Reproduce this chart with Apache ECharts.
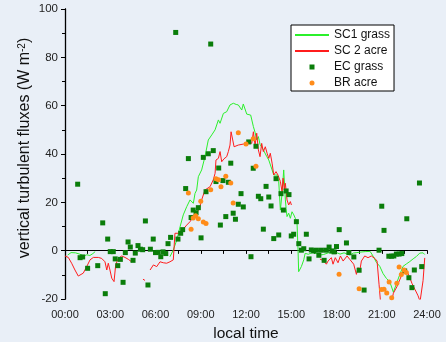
<!DOCTYPE html>
<html>
<head>
<meta charset="utf-8">
<script src="https://cdn.jsdelivr.net/npm/echarts@6/dist/echarts.min.js"></script>
<style>
  html, body { margin: 0; padding: 0; background: #e9eff7; }
  #main { width: 446px; height: 342px; }
</style>
</head>
<body>
<div id="main"></div>
<script>
// SC1 grass (green line), null = gap in the record
const sc1Hours = [0.18, 0.4, 0.7, 1.0, 1.25, 1.45, 1.65, 1.85, 2.0, 2.05,
  6.96, 7.18, 7.41, 7.63, 7.84, 8.07, 8.29, 8.4, 8.51, 8.62, 8.73, 8.84, 9.06, 9.28, 9.5, 9.73, 9.95,
  10.17, 10.28, 10.5, 10.72, 10.94, 11.05, 11.16, 11.35, 11.49, 11.56, 11.72, 11.82, 12.05, 12.31, 12.49,
  12.6, 12.71, 12.82, 12.93, 13.15, 13.38, 13.51, 13.73, 13.84, 13.95, 14.06, 14.17, 14.28, 14.39, 14.5,
  14.55, 14.61, 14.66, 14.72, 14.83, 14.94, 15.05, 15.17, 15.27, 15.38, 15.45, 15.49, 15.67, 15.83, 15.92,
  16.13, 16.4, 16.69, 16.9, 17.13, 17.46, 17.79, 18.0, 18.24, 18.5, 18.68, 18.9, 19.12, 19.35, 19.56, 19.9,
  20.23, 20.45, 20.64, 20.87, 21.09, 21.31, 21.53, 21.66, 21.77, 21.97, 22.2, 22.41, 22.63, 22.86, 23.08,
  23.3, 23.52, 23.74, 23.85];
const sc1Flux = [-1.8, -0.8, -0.9, -1.5, -2.2, -1.7, -2.0, -1.2, -0.4, null,
  -2.5, 0.3, 4.4, 9.9, 14.8, 18.2, 21, 21.7, 19.6, 23.7, 25.1, 30.6, 33.4, 38.9, 45.8, 47.9, 50,
  54.1, 52.7, 56.8, 57.5, 60.3, 60.7, 61, 60.5, 60.3, 59.6, 58.2, 60.7, 56.5, 56.1, 51.3,
  49, 45.8, 47.2, 44, 41.7, 38.9, 37.5, 33.4, 31.3, 30.6, 31.3, 28.6, 16.8, 23.7, 33.4,
  33, 21, 17.5, 14.1, 15.5, 13.4, 16.1, 14.8, 13.4, 12, 0.3, -8.7, -6.6, -3.8, -1.1,
  -1.5, -0.8, -1.2, -1.8, -1.6, -0.9, -1.1, -0.8, -1.4, -0.9, -1.3, -1.8, -1.0, -0.8, -0.6, -0.4,
  -0.3, -2.5, -4.8, -6.5, -9.5, -11.5, -12.8, -13.5, -17.2, -13.7, -9.8, -6.5, -5.5, -4.5, -3.4,
  -2.4, -1.0, -0.9, -1.6];

// SC 2 acre (red line)
const sc2Hours = [0.0, 0.22, 0.44, 0.66, 0.88, 0.99, 1.21, 1.44, 1.66, 1.88, 2.21, 2.43, 2.65, 2.77, 2.87,
  2.98, 3.1, 3.25, 3.36, 3.53, 3.76, 3.98, 4.2, 4.42, 4.53, 4.64, 4.9,
  5.17, 5.3, 5.45,
  5.64, 5.86, 6.08, 6.3, 6.52, 6.74, 6.96, 7.18, 7.29, 7.51, 7.63, 7.84, 8.07, 8.29, 8.51, 8.73, 8.91,
  9.0, 9.06, 9.28, 9.62, 9.83, 9.95, 10.01, 10.17, 10.28, 10.39, 10.54, 10.72, 10.83, 10.94, 11.01, 11.12,
  11.21, 11.49, 11.82, 12.05, 12.22, 12.38, 12.49, 12.6, 12.71, 12.82, 12.93, 13.04, 13.15, 13.28, 13.4,
  13.51, 13.61, 13.73, 13.84, 13.99, 14.12, 14.28, 14.39, 14.46, 14.54, 14.61, 14.72, 14.83, 14.94, 15.01, 15.2,
  16.9, 17.11, 17.33, 17.44, 17.55, 17.66, 17.77, 17.92, 18.1, 18.26, 18.44, 18.55, 18.7, 18.88, 18.99,
  19.14, 19.32, 19.43, 19.54, 19.65, 19.87, 20.09, 20.31, 20.54, 20.69, 20.82, 20.91, 21.1, 21.5, 21.77,
  22.0, 22.21, 22.43, 22.6, 22.8, 23.0, 23.2, 23.41, 23.54, 23.65, 23.74, 23.85];
const sc2Flux = [-2.2, -2.8, -5.2, -8, -10.5, -11.2, -9.3, -6.6, -3.8, -2.8, -2.8, -3.2, -4.6, -8, -5.2,
  -8, -11.4, -12.8, -5.9, -3.2, -2.2, -2.8, -3.6, -4.6, -5.4, -4.0, null,
  -11.8, -12.3, null,
  -8, -5.9, -6.6, -4.6, -5.0, -5.2, -4.6, -3.8, 7.2, 7.2, 7.9, 8.9, 10.6, 12, 14.1, 15.5, 17.5,
  19.6, 21, 25.1, 26.5, 29.3, 32, 37.5, 38.2, 41, 36.8, 38, 38.9, 41, 43.7, 49.2, 45.8,
  43, 43.7, 44.1, 44.1, 45.1, 44.4, 49.2, 43.5, 48.6, 41.7, 38.9, 44.4, 41, 43, 40.3,
  38.2, 40.3, 36.2, 31.3, 32.7, 31.3, 28.6, 24.4, 30, 25.1, 27.9, 21, 18.9, 20.3, 18.9, null,
  -3.5, -4, -5.6, -4.3, -5, -2.9, -5.6, -2.9, -5, -2.2, -4.3, -3.6, -2.2, -3.6, -3.2,
  -5.6, -9.8, -7, -8.4, -4.3, -2.2, -2.9, -2.2, -3.2, -4.3, -13.9, -20.5, -26, -26, -17.6,
  -15, -11.8, -8.6, -7.8, -10.2, -13.5, -16, -18.7, -21, -21, -12.3, -3.0];

// EC grass (green squares)
const ecHours = [0.84, 1.0, 1.17, 1.5, 2.17, 2.5, 2.67, 2.83, 3.0, 3.2, 3.33, 3.5, 3.67, 3.85, 4.0, 4.18,
  4.33, 4.51, 4.66, 4.84, 5.0, 5.15, 5.33, 5.5, 5.66, 5.85, 6.0, 6.17, 6.35, 6.5, 6.68, 6.83, 7.0, 7.34,
  7.49, 7.67, 7.8, 8.0, 8.18, 8.36, 8.5, 8.69, 8.84, 9.02, 9.17, 9.35, 9.5, 9.66, 9.83, 10.01, 10.19,
  10.3, 10.47, 10.66, 10.83, 10.99, 11.15, 11.3, 11.49, 11.67, 11.82, 12.18, 12.33, 12.48, 12.66, 12.82,
  12.98, 13.15, 13.33, 13.51, 13.66, 13.84, 13.99, 14.17, 14.32, 14.48, 14.66, 14.85, 15.0, 15.16, 15.34,
  15.5, 15.67, 15.83, 16.0, 16.18, 16.33, 16.49, 16.67, 16.83, 17.0, 17.18, 17.33, 17.51, 17.69, 17.84,
  18.0, 18.18, 18.66, 18.82, 19.15, 19.5, 19.83, 20.82, 21.0, 21.15, 21.47, 21.64, 21.8, 21.97, 22.15,
  22.33, 22.52, 22.66, 22.8, 23.0, 23.16, 23.5, 23.65];
const ecFlux = [27.5, -2.9, -2.6, -7.3, -6.2, 11.5, -17.8, 4.8, -0.4, -0.4, -3.4, -6.2, -3.6, -13.1, -0.8, 3.6,
  1.5, -4.0, -1.0, 2.1, 0.6, 0.4, 12.3, -14.2, 0.6, 4.8, -0.8, -0.7, -2.5, -0.5, -1.2, 2.9, 5.5, 90.3,
  4.8, 7.2, 8.7, 25.7, 38.1, 13.7, 16.8, 15.7, 17.8, 5.3, 38.6, 24.4, 40.1, 85.5, 41.4, 28.6, 34.2,
  10.6, 29, 14.1, 28.3, 36.2, 15.5, 13.0, 19.2, 23.6, 18.1, 45.0, -2.5, 34.1, 43.2, 22.5,
  21.5, 8.9, 26.6, 22.2, 18.5, 5.0, 29.8, 6.5, 23.6, 16.8, 24.7, 23.2, 6.1, 6.8, 12.0,
  2.9, 0.2, 0.8, 6.8, -3.4, 0.3, -0.1, 0.2, -1.9, 0.2, -4.0, 0.2, 1.5, -0.1, -0.5,
  1.7, 8.7, 3.2, -0.8, -2.6, -8.1, -16.3, 0.2, 18.4, 8.4, -2.3, -2.3, -2.2, -1.4, -1.4,
  -1.2, -8.4, 13.2, -11.2, -15.3, -8.0, 28.0, -6.6];

// BR acre (orange dots)
const brHours = [8.18, 8.36, 8.5, 8.66, 8.84, 9.0, 9.17, 9.35, 9.66, 10.01, 10.17, 10.34, 10.66, 10.99,
  11.15, 11.49, 12.0, 12.48, 12.66, 18.17, 19.5, 20.98, 21.15, 21.33, 21.49, 21.66, 22.0, 22.15, 22.3,
  22.48, 22.63];
const brFlux = [23.9, 8.9, 13.5, 14.4, 13.2, 20.4, 11.9, 11.2, 25.2, 29.8, 29.3, 26.5, 30.8, 28.0,
  19.7, 48.8, 44.1, 46.3, 34.9, -9.8, -15.8, -16.1, -16.0, -17.5, -13.0, -19.5, -13.5, -6.8, -9.9,
  -8.0, -9.0];

const timeTicks = ["00:00", "03:00", "06:00", "09:00", "12:00", "15:00", "18:00", "21:00", "24:00"];

function pairs(xs, ys) {
  return xs.map((x, i) => [x, ys[i] === null ? "-" : ys[i]]);
}

const font = "Liberation Sans, Arial, sans-serif";
const noDot = { color: "rgba(0,0,0,0)", borderWidth: 0 };
// legend square kept small in the middle of the 34x5 icon box
const squareIcon = "path://M0,0M34,5M14.5,0H19.5V5H14.5Z";
const chart = echarts.init(document.getElementById("main"));
const option = {
  backgroundColor: "#e9eff7",
  animation: false,
  textStyle: { fontFamily: font },
  grid: { left: 65, right: 19, top: 9, bottom: 43, containLabel: false, outerBoundsMode: "none" },
  legend: {
    left: 291,
    top: 25,
    orient: "vertical",
    backgroundColor: "#fff",
    borderColor: "#000",
    borderWidth: 1,
    borderRadius: 0,
    padding: [3, 4, 1, 3],
    itemGap: 2,
    itemWidth: 34,
    itemHeight: 5,
    textStyle: { fontSize: 12, color: "#111", fontFamily: font, lineHeight: 14 },
    data: [
      { name: "SC1 grass", itemStyle: noDot },
      { name: "SC 2 acre", itemStyle: noDot },
      { name: "EC grass", icon: squareIcon },
      "BR acre"
    ]
  },
  xAxis: [
    {
      type: "value",
      min: 0,
      max: 24,
      interval: 3,
      name: "local time",
      nameLocation: "middle",
      nameGap: 27,
      nameMoveOverlap: false,
      nameTextStyle: { fontSize: 15.5, color: "#111", fontFamily: font },
      axisLine: { lineStyle: { color: "#000", width: 1 } },
      axisTick: { length: 3, lineStyle: { color: "#000" } },
      minorTick: { show: true, splitNumber: 2, length: 3, lineStyle: { color: "#000" } },
      axisLabel: {
        margin: 10,
        fontSize: 11,
        color: "#222",
        formatter: v => timeTicks[Math.round(v / 3)]
      },
      splitLine: { show: false }
    },
    {
      type: "value",
      position: "top",
      min: 0,
      max: 24,
      interval: 1.5,
      axisLine: { lineStyle: { color: "#000", width: 1 } },
      axisTick: { inside: true, length: 3, lineStyle: { color: "#000" } },
      axisLabel: { show: false },
      splitLine: { show: false }
    }
  ],
  yAxis: [
    {
      type: "value",
      min: -20,
      max: 100,
      interval: 20,
      name: "vertical turbulent fluxes (W m{sup|-2})",
      nameLocation: "middle",
      nameGap: 32,
      nameMoveOverlap: false,
      nameTextStyle: {
        fontSize: 16,
        color: "#111",
        fontFamily: font,
        padding: [0, 0, 0, 12],
        rich: { sup: { fontSize: 10, verticalAlign: "top", lineHeight: 10, color: "#111" } }
      },
      axisLine: { lineStyle: { color: "#000", width: 1.3 } },
      axisTick: { length: 4, lineStyle: { color: "#000" } },
      minorTick: { show: true, splitNumber: 2, length: 3, lineStyle: { color: "#000" } },
      axisLabel: { margin: 7, fontSize: 11.5, color: "#222" },
      splitLine: { show: false }
    },
    {
      type: "value",
      position: "right",
      min: -20,
      max: 100,
      interval: 10,
      axisLine: { lineStyle: { color: "#000", width: 1 } },
      axisTick: { inside: true, length: 3, lineStyle: { color: "#000" } },
      axisLabel: { show: false },
      splitLine: { show: false }
    }
  ],
  series: [
    {
      name: "SC1 grass",
      type: "line",
      symbol: "none",
      connectNulls: false,
      lineStyle: { color: "#2bf02b", width: 1 },
      itemStyle: { color: "#2bf02b" },
      data: pairs(sc1Hours, sc1Flux),
      z: 2
    },
    {
      name: "SC 2 acre",
      type: "line",
      symbol: "none",
      connectNulls: false,
      lineStyle: { color: "#ff1c1c", width: 1 },
      itemStyle: { color: "#ff1c1c" },
      data: pairs(sc2Hours, sc2Flux),
      z: 3
    },
    {
      name: "EC grass",
      type: "scatter",
      symbol: "rect",
      symbolSize: 5,
      itemStyle: { color: "#0a7d0a", opacity: 1 },
      data: pairs(ecHours, ecFlux),
      z: 4
    },
    {
      name: "BR acre",
      type: "scatter",
      symbol: "circle",
      symbolSize: 5,
      itemStyle: { color: "#ff8c1a", opacity: 1 },
      data: pairs(brHours, brFlux),
      z: 5
    }
  ]
};
chart.setOption(option);
window.addEventListener("resize", chart.resize);
</script>
</body>
</html>
